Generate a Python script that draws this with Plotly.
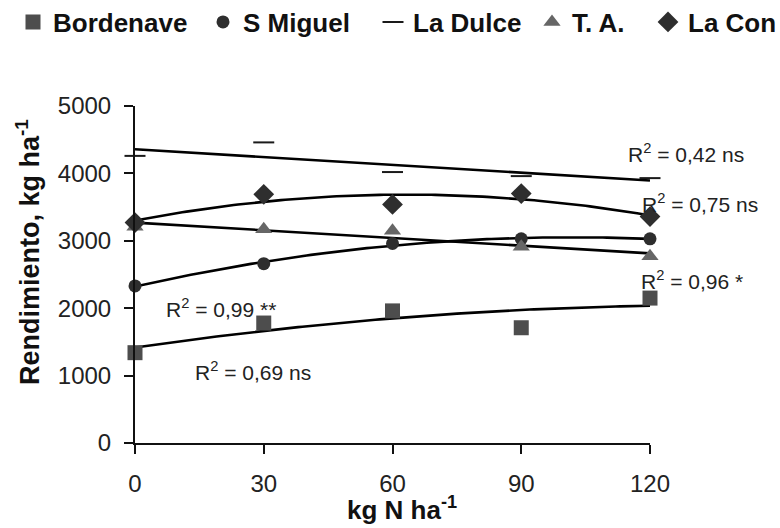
import numpy as np
import plotly.graph_objects as go

# ---- data ----
n_rates = [0, 30, 60, 90, 120]
bordenave = [1340, 1780, 1960, 1710, 2150]
s_miguel = [2330, 2660, 2960, 3030, 3030]
la_dulce = [4260, 4460, 4020, 3960, 3930]
t_a = [3210, 3170, 3150, 2910, 2770]
la_con = [3270, 3690, 3540, 3700, 3360]

series_names = ["Bordenave", "S Miguel", "La Dulce", "T. A.", "La Con"]
trend_degree = [2, 2, 1, 1, 2]
r2_labels = ["R<sup>2</sup> = 0,69 ns", "R<sup>2</sup> = 0,99 **", "R<sup>2</sup> = 0,42 ns",
             "R<sup>2</sup> = 0,96 *", "R<sup>2</sup> = 0,75 ns"]
y_ticks = [0, 1000, 2000, 3000, 4000, 5000]
x_ticks = [0, 30, 60, 90, 120]

FONT = "Liberation Sans, Arial, sans-serif"

styles = [
    dict(symbol="square", size=15, color="#4d4d4d", line=dict(width=0)),
    dict(symbol="circle", size=13, color="#2e2e2e", line=dict(width=0)),
    dict(symbol="line-ew-open", size=15, color="#1a1a1a", line=dict(width=2, color="#1a1a1a")),
    dict(symbol="triangle-up", size=15, color="#666666", line=dict(width=0)),
    dict(symbol="diamond", size=16, color="#2e2e2e", line=dict(width=0)),
]

all_series = [bordenave, s_miguel, la_dulce, t_a, la_con]

fig = go.Figure()

# trendlines (polynomial fits of each series, as in the spreadsheet chart)
xf = np.linspace(0, 120, 121)
for ys, deg in zip(all_series, trend_degree):
    c = np.polyfit(n_rates, ys, deg)
    fig.add_trace(go.Scatter(x=xf, y=np.polyval(c, xf), mode="lines",
                             line=dict(color="black", width=2.6),
                             showlegend=False, hoverinfo="skip", cliponaxis=False))

legend_ids = ["legend", "legend2", "legend3", "legend4", "legend5"]
for name, ys, st, lid in zip(series_names, all_series, styles, legend_ids):
    fig.add_trace(go.Scatter(x=n_rates, y=ys, mode="markers", name=name,
                             marker=st, cliponaxis=False, legend=lid))

# plot area: x 135..650 px, y 106..443 px
L, R, T, B = 135, 130, 106, 85
W, H = 780, 528
pw, ph = W - L - R, H - T - B

def px(xp):
    return (xp - L) / pw

def py(yp):
    return (H - B - yp) / ph

legend_text_x = [53, 243, 413, 572, 688]
leg_common = dict(orientation="h", xanchor="left", yanchor="middle",
                  font=dict(family=FONT, size=26, color="#111111", weight="bold"),
                  bgcolor="rgba(0,0,0,0)", borderwidth=0, itemclick=False)
layout_legends = {}
for lid, tx in zip(legend_ids, legend_text_x):
    layout_legends[lid] = dict(leg_common, x=px(tx - 40), y=py(22))

# R^2 annotations (pixel centers)
r2_pos = [(253, 371), (221, 308), (686, 153), (692, 280), (700, 203)]
annotations = []
for lab, (ax_, ay_) in zip(r2_labels, r2_pos):
    annotations.append(dict(text=lab, x=px(ax_), y=py(ay_), xref="paper", yref="paper",
                            showarrow=False, xanchor="center", yanchor="middle",
                            font=dict(family=FONT, size=21, color="#222222")))

annotations.append(dict(text="<b>Rendimiento, kg ha<sup>-1</sup></b>", x=px(28), y=py(252),
                        xref="paper", yref="paper", textangle=-90, showarrow=False,
                        xanchor="center", yanchor="middle",
                        font=dict(family=FONT, size=27, color="#111111")))
annotations.append(dict(text="<b>kg N ha<sup>-1</sup></b>", x=px(402), y=py(527),
                        xref="paper", yref="paper", showarrow=False,
                        xanchor="center", yanchor="bottom",
                        font=dict(family=FONT, size=26, color="#111111")))

fig.update_layout(
    width=W, height=H,
    margin=dict(l=L, r=R, t=T, b=B, autoexpand=False),
    paper_bgcolor="white", plot_bgcolor="white",
    font=dict(family=FONT, color="#222222"),
    showlegend=True,
    annotations=annotations,
    **layout_legends,
)

fig.update_xaxes(range=[0, 120], tickvals=x_ticks, ticktext=[str(v) for v in x_ticks],
                 showgrid=False, zeroline=False, showline=True, linecolor="#111111",
                 linewidth=2, ticks="outside", ticklen=9, tickwidth=2, tickcolor="#111111",
                 tickfont=dict(family=FONT, size=24, color="#222222"),
                 ticklabelstandoff=9)
fig.update_yaxes(range=[0, 5000], tickvals=y_ticks, ticktext=[str(v) for v in y_ticks],
                 showgrid=False, zeroline=False, showline=True, linecolor="#111111",
                 linewidth=2, ticks="outside", ticklen=9, tickwidth=2, tickcolor="#111111",
                 tickfont=dict(family=FONT, size=24, color="#222222"),
                 ticklabelstandoff=8)

fig.write_html("out.html",
               config={"displayModeBar": False},
               post_script="document.body.style.margin='0';document.body.style.padding='0';")
